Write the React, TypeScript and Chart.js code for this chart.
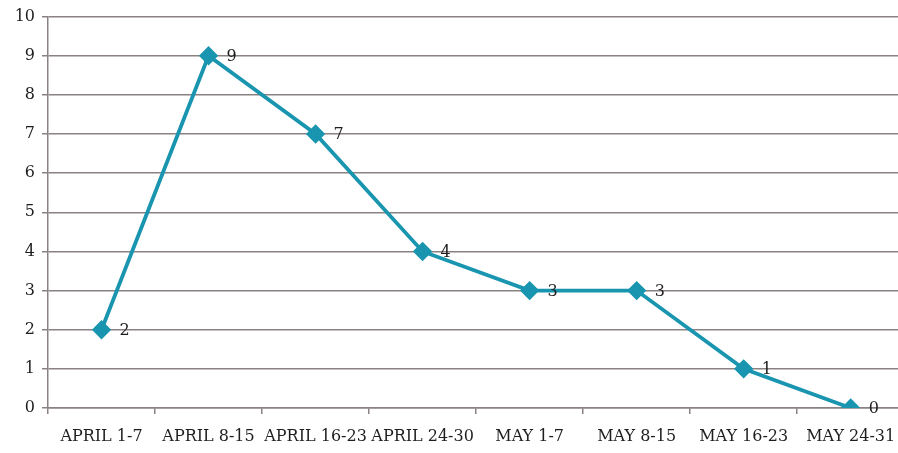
import React, { useEffect, useRef } from "react";
import { Chart, registerables } from "chart.js";

Chart.register(...registerables);

const categories = [
  "APRIL 1-7",
  "APRIL 8-15",
  "APRIL 16-23",
  "APRIL 24-30",
  "MAY 1-7",
  "MAY 8-15",
  "MAY 16-23",
  "MAY 24-31",
];
const values = [2, 9, 7, 4, 3, 3, 1, 0];

const LINE_COLOR = "#1995b0";
const GRID_COLOR = "#8a8282";
const TEXT_COLOR = "#1e1e1e";
const FONT_FAMILY = "'DejaVu Serif', serif";

const dataLabelPlugin = {
  id: "pointValueLabels",
  afterDatasetsDraw(chart: any) {
    const ctx = chart.ctx;
    const meta = chart.getDatasetMeta(0);
    ctx.save();
    ctx.font = `16px ${FONT_FAMILY}`;
    ctx.fillStyle = TEXT_COLOR;
    ctx.textAlign = "left";
    ctx.textBaseline = "middle";
    meta.data.forEach((el: any, i: number) => {
      ctx.fillText(String(values[i]), el.x + 18, el.y + 1);
    });
    ctx.restore();
  },
};

export default function App() {
  const canvasRef = useRef<HTMLCanvasElement | null>(null);

  useEffect(() => {
    if (!canvasRef.current) return;
    const chart = new Chart(canvasRef.current, {
      type: "line",
      data: {
        labels: categories,
        datasets: [
          {
            data: values,
            borderColor: LINE_COLOR,
            backgroundColor: LINE_COLOR,
            borderWidth: 3.8,
            pointStyle: "rectRot",
            pointRadius: 7,
            pointHoverRadius: 7,
            pointBackgroundColor: LINE_COLOR,
            pointBorderColor: LINE_COLOR,
            tension: 0,
          },
        ],
      },
      options: {
        animation: false,
        responsive: false,
        maintainAspectRatio: false,
        layout: { padding: { top: 16, left: 0, right: 0, bottom: 0 } },
        plugins: {
          legend: { display: false },
          tooltip: { enabled: false },
        },
        scales: {
          x: {
            type: "category",
            offset: true,
            grid: {
              offset: true,
              drawOnChartArea: false,
              drawTicks: true,
              tickLength: 6,
              color: GRID_COLOR,
              lineWidth: 1.5,
            },
            border: { display: true, color: GRID_COLOR, width: 1.5 },
            ticks: {
              color: TEXT_COLOR,
              font: { family: FONT_FAMILY, size: 16 },
              padding: 13,
              maxRotation: 0,
              autoSkip: false,
            },
            afterFit(scale: any) {
              scale.height = 45;
            },
          },
          y: {
            min: 0,
            max: 10,
            ticks: {
              stepSize: 1,
              color: TEXT_COLOR,
              font: { family: FONT_FAMILY, size: 16 },
              padding: 7,
            },
            grid: {
              color: GRID_COLOR,
              lineWidth: 1.5,
              tickLength: 6,
            },
            border: { display: true, color: GRID_COLOR, width: 1.5 },
            afterFit(scale: any) {
              scale.width = 48;
            },
          },
        },
      },
      plugins: [dataLabelPlugin],
    });
    return () => chart.destroy();
  }, []);

  return (
    <div
      style={{
        position: "fixed",
        left: 0,
        top: 0,
        width: 898,
        height: 453,
        overflow: "hidden",
        background: "#ffffff",
      }}
    >
      <canvas
        ref={canvasRef}
        width={915}
        height={453}
        style={{ display: "block", width: 915, height: 453 }}
      />
    </div>
  );
}
